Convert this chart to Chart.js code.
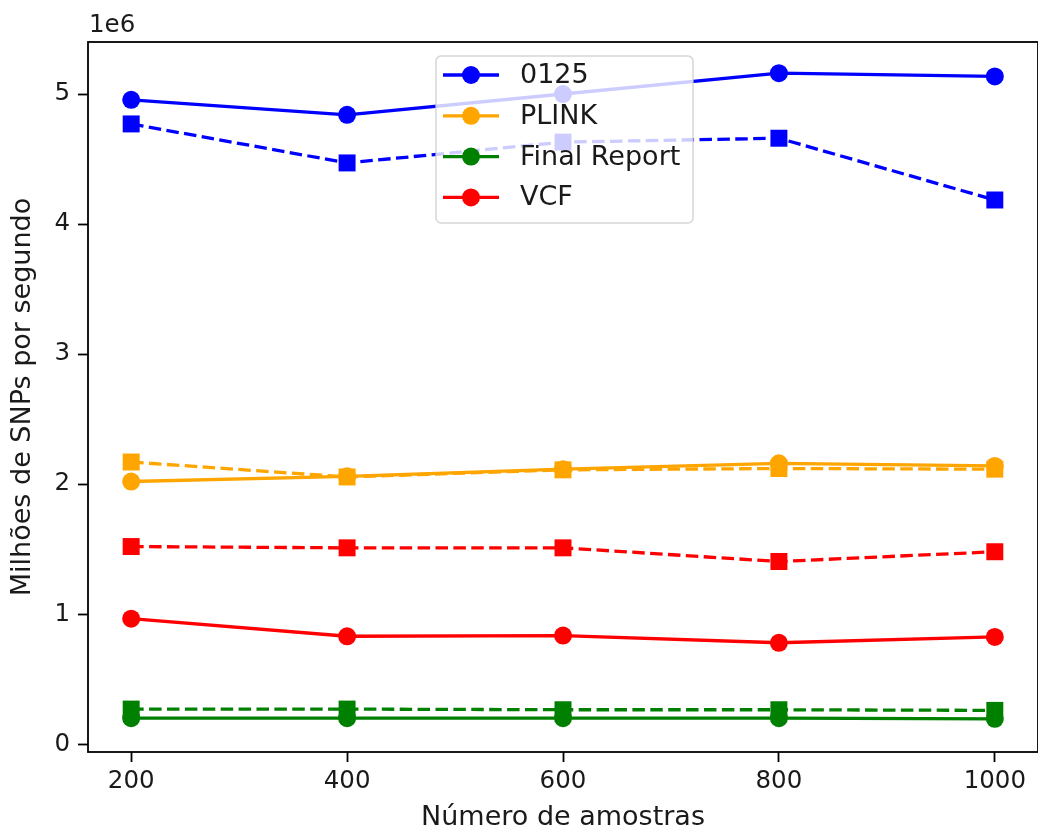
<!DOCTYPE html>
<html>
<head>
<meta charset="utf-8">
<script src="https://cdn.jsdelivr.net/npm/chart.js@4/dist/chart.umd.min.js"></script>
<style>
  html, body { margin: 0; padding: 0; background: #ffffff; overflow: hidden; }
  #wrap { position: relative; width: 1038px; height: 834px; }
</style>
</head>
<body>
<div id="wrap"><canvas id="chart" width="1038" height="834"></canvas></div>
<script>
// Sample counts (x axis)
const samples = [200, 400, 600, 800, 1000];
const xTicks = [200, 400, 600, 800, 1000];
const yTicks = [0, 1e6, 2e6, 3e6, 4e6, 5e6];

// Series names (legend)
const seriesNames = ['0125', 'PLINK', 'Final Report', 'VCF'];

// SNPs per second, solid lines (circles)
const solid0125 = [4.955e6, 4.84e6, 5.00e6, 5.16e6, 5.135e6];
const solidPlink = [2.02e6, 2.06e6, 2.115e6, 2.16e6, 2.14e6];
const solidFinalReport = [0.20e6, 0.20e6, 0.20e6, 0.20e6, 0.195e6];
const solidVcf = [0.965e6, 0.83e6, 0.835e6, 0.78e6, 0.825e6];

// SNPs per second, dashed lines (squares)
const dashed0125 = [4.77e6, 4.47e6, 4.63e6, 4.66e6, 4.185e6];
const dashedPlink = [2.17e6, 2.055e6, 2.11e6, 2.12e6, 2.115e6];
const dashedFinalReport = [0.27e6, 0.27e6, 0.265e6, 0.265e6, 0.26e6];
const dashedVcf = [1.52e6, 1.51e6, 1.51e6, 1.405e6, 1.48e6];

const palette = ['#0000ff', '#ffa500', '#008000', '#ff0000'];
const FONT = 'DejaVu Sans';
const TICK_FS = 24.5;
const LABEL_FS = 27;
const TEXT = '#1a1a1a';

const solidSets = [solid0125, solidPlink, solidFinalReport, solidVcf];
const dashedSets = [dashed0125, dashedPlink, dashedFinalReport, dashedVcf];

function pts(vals) { return samples.map((x, i) => ({ x: x, y: vals[i] })); }

const datasets = [];
seriesNames.forEach((name, i) => {
  datasets.push({
    label: name,
    data: pts(solidSets[i]),
    borderColor: palette[i],
    backgroundColor: palette[i],
    borderWidth: 3.3,
    pointStyle: 'circle',
    pointRadius: 9,
    pointBorderWidth: 0,
    pointHoverRadius: 9,
    tension: 0,
    inLegend: true
  });
  datasets.push({
    label: name + ' ',
    data: pts(dashedSets[i]),
    borderColor: palette[i],
    backgroundColor: palette[i],
    borderWidth: 3.3,
    borderDash: [12.5, 5.4],
    pointStyle: 'rect',
    pointRadius: 12,
    pointBorderWidth: 0,
    pointHoverRadius: 12,
    tension: 0,
    inLegend: false
  });
});

// Frame around the plot area, the "1e6" multiplier and an inset legend
const decorations = {
  id: 'decorations',
  afterDatasetsDraw(chart) {
    const ctx = chart.ctx;
    const a = chart.chartArea;
    ctx.save();
    ctx.strokeStyle = '#000000';
    ctx.lineWidth = 1.8;
    ctx.strokeRect(a.left, a.top, a.right - a.left, a.bottom - a.top);

    ctx.fillStyle = TEXT;
    ctx.font = TICK_FS + 'px "' + FONT + '"';
    ctx.textAlign = 'left';
    ctx.textBaseline = 'alphabetic';
    ctx.fillText('1e6', a.left + 1, 32);

    // legend box
    const bx = 436, by = 56, bw = 257, bh = 167, r = 5;
    ctx.beginPath();
    ctx.moveTo(bx + r, by);
    ctx.arcTo(bx + bw, by, bx + bw, by + bh, r);
    ctx.arcTo(bx + bw, by + bh, bx, by + bh, r);
    ctx.arcTo(bx, by + bh, bx, by, r);
    ctx.arcTo(bx, by, bx + bw, by, r);
    ctx.closePath();
    ctx.fillStyle = 'rgba(255,255,255,0.8)';
    ctx.fill();
    ctx.strokeStyle = 'rgba(204,204,204,0.8)';
    ctx.lineWidth = 1.5;
    ctx.stroke();

    ctx.font = LABEL_FS + 'px "' + FONT + '"';
    const entries = chart.data.datasets.filter(d => d.inLegend);
    entries.forEach((d, i) => {
      const cy = 75 + i * 40.8;
      ctx.strokeStyle = d.borderColor;
      ctx.lineWidth = 3.3;
      ctx.setLineDash([]);
      ctx.beginPath();
      ctx.moveTo(443, cy);
      ctx.lineTo(499, cy);
      ctx.stroke();
      ctx.fillStyle = d.borderColor;
      ctx.beginPath();
      ctx.arc(471, cy, 9, 0, Math.PI * 2);
      ctx.fill();
      ctx.fillStyle = TEXT;
      ctx.textBaseline = 'middle';
      ctx.fillText(d.label, 520, cy + 1);
    });
    ctx.restore();
  }
};

Chart.defaults.font.family = FONT;
Chart.defaults.font.size = TICK_FS;
Chart.defaults.color = TEXT;

new Chart(document.getElementById('chart'), {
  type: 'line',
  data: { datasets: datasets },
  options: {
    responsive: false,
    animation: false,
    events: [],
    layout: { autoPadding: false, padding: { left: 0, right: 0, top: 42, bottom: 0 } },
    plugins: {
      legend: { display: false },
      tooltip: { enabled: false }
    },
    scales: {
      x: {
        type: 'linear',
        min: 160,
        max: 1040,
        afterBuildTicks(scale) { scale.ticks = xTicks.map(v => ({ value: v })); },
        afterFit(scale) { scale.height = 82; scale.paddingLeft = 0; scale.paddingRight = 0; },
        border: { display: false },
        grid: { display: true, drawOnChartArea: false, tickLength: 10, tickWidth: 1.8, color: '#000000' },
        ticks: { padding: 5, color: TEXT, font: { size: TICK_FS }, maxRotation: 0, callback: v => String(v) },
        title: { display: true, text: 'Número de amostras', color: TEXT, font: { size: LABEL_FS }, padding: { top: 0, bottom: 0 } }
      },
      y: {
        type: 'linear',
        min: -0.06e6,
        max: 5.40e6,
        afterBuildTicks(scale) { scale.ticks = yTicks.map(v => ({ value: v })); },
        afterFit(scale) { scale.width = 88; scale.paddingTop = 0; scale.paddingBottom = 0; },
        border: { display: false },
        grid: { display: true, drawOnChartArea: false, tickLength: 10, tickWidth: 1.8, color: '#000000' },
        ticks: { padding: 8, color: TEXT, font: { size: TICK_FS }, callback: v => String(Math.round(v / 1e6)) },
        title: { display: true, text: 'Milhões de SNPs por segundo', color: TEXT, font: { size: LABEL_FS }, padding: { top: 7, bottom: 0 } }
      }
    }
  },
  plugins: [decorations]
});
</script>
</body>
</html>
